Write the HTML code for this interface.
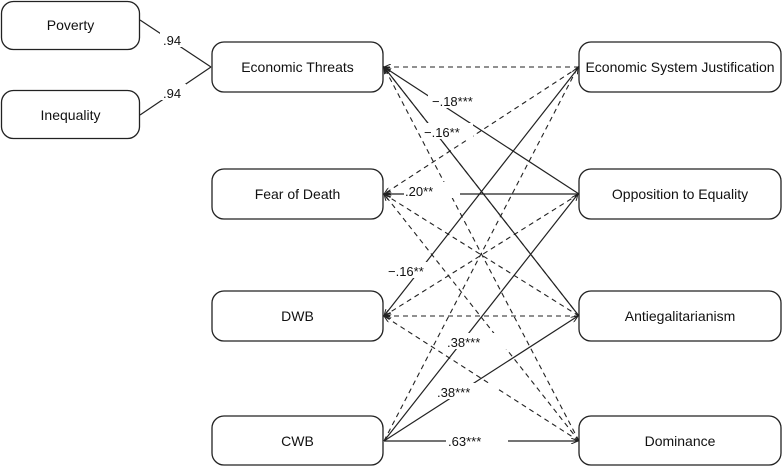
<!DOCTYPE html>
<html><head><meta charset="utf-8"><style>
html,body{margin:0;padding:0;background:#fff;}
svg{display:block;font-family:"Liberation Sans",sans-serif;}
</style></head><body>
<svg width="783" height="466" viewBox="0 0 783 466" xmlns="http://www.w3.org/2000/svg">
<defs>
<marker id="a" markerWidth="8" markerHeight="6" refX="7" refY="3" orient="auto" markerUnits="userSpaceOnUse"><path d="M0,0 L7,3 L0,6" fill="none" stroke="#222" stroke-width="1"/></marker>
</defs>
<g fill="#fff" stroke="#222" stroke-width="1.3">
<rect x="1.5" y="1.5" width="138" height="48" rx="12"/>
<rect x="1.5" y="90.5" width="138" height="48" rx="12"/>
<rect x="212" y="42" width="171" height="50" rx="12"/>
<rect x="212" y="169" width="171" height="50" rx="12"/>
<rect x="212" y="291" width="171" height="50" rx="12"/>
<rect x="212" y="416" width="171" height="49" rx="12"/>
<rect x="579" y="42" width="202" height="50" rx="12"/>
<rect x="579" y="169" width="202" height="50" rx="12"/>
<rect x="579" y="291" width="202" height="50" rx="12"/>
<rect x="579" y="416" width="202" height="49" rx="12"/>
</g>
<g stroke="#222" stroke-width="1.2" fill="none">
<line x1="140" y1="20" x2="211" y2="67"/>
<line x1="140" y1="115" x2="211" y2="67"/>
</g>
<g stroke="#222" stroke-width="1.1" fill="none" stroke-dasharray="5,4" marker-end="url(#a)">
<line x1="579" y1="67" x2="384" y2="67"/>
<line x1="579" y1="441" x2="384" y2="67"/>
<line x1="579" y1="316" x2="384" y2="67"/>
<line x1="579" y1="67" x2="384" y2="194"/>
<line x1="579" y1="316" x2="384" y2="194"/>
<line x1="579" y1="441" x2="384" y2="194"/>
<line x1="579" y1="194" x2="384" y2="316"/>
<line x1="579" y1="316" x2="384" y2="316"/>
<line x1="579" y1="441" x2="384" y2="316"/>
<line x1="384" y1="441" x2="578" y2="67"/>
</g>
<g stroke="#222" stroke-width="1.2" fill="none" marker-end="url(#a)">
<line x1="579" y1="194" x2="384" y2="67"/>
<line x1="579" y1="316" x2="384" y2="67"/>
<line x1="579" y1="194" x2="384" y2="194"/>
<line x1="579" y1="67" x2="384" y2="316"/>
<line x1="384" y1="441" x2="578" y2="194"/>
<line x1="384" y1="441" x2="578" y2="316"/>
<line x1="384" y1="441" x2="578" y2="441"/>
</g>
<g fill="#fff">
<rect x="160" y="31" width="26" height="16"/>
<rect x="160" y="84" width="26" height="16"/>
<rect x="428" y="92" width="58" height="16"/>
<rect x="423" y="123" width="50" height="16"/>
<rect x="404" y="182" width="56" height="16"/>
<rect x="386" y="262" width="50" height="16"/>
<rect x="445" y="333" width="62" height="16"/>
<rect x="435" y="383" width="62" height="16"/>
<rect x="446" y="432" width="62" height="16"/>
</g>
<g font-size="14" fill="#111" text-anchor="middle">
<text x="70.5" y="30">Poverty</text>
<text x="70.5" y="120">Inequality</text>
<text x="297.5" y="72">Economic Threats</text>
<text x="297.5" y="199">Fear of Death</text>
<text x="297.5" y="321">DWB</text>
<text x="297.5" y="446">CWB</text>
<text x="680" y="72">Economic System Justification</text>
<text x="680" y="199">Opposition to Equality</text>
<text x="680" y="321">Antiegalitarianism</text>
<text x="680" y="446">Dominance</text>
</g>
<g font-size="13" fill="#111">
<text x="163" y="45">.94</text>
<text x="163" y="98">.94</text>
<text x="432" y="106">−.18***</text>
<text x="424" y="137">−.16**</text>
<text x="405" y="196">.20**</text>
<text x="388" y="276">−.16**</text>
<text x="447" y="347">.38***</text>
<text x="437" y="397">.38***</text>
<text x="448" y="446">.63***</text>
</g>
</svg>
</body></html>
